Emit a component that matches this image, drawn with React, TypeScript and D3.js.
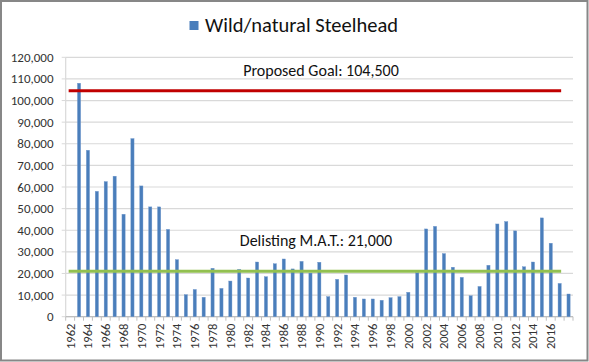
import React from "react";
import * as d3 from "d3";

const years: number[] = d3.range(1962, 2019);
const values: (number | null)[] = [
  null, 108000, 77000, 58000, 62500, 65000, 47400, 82400, 60500, 50800,
  50800, 40400, 26400, 10200, 12600, 9000, 22400, 13100, 16500, 21900,
  17900, 25300, 18500, 24500, 26700, 22100, 25600, 20200, 25200, 9300,
  17300, 19300, 9000, 8200, 8200, 7600, 8800, 9300, 11300, 20400,
  40600, 41800, 29200, 22900, 18200, 9700, 14000, 23800, 42900, 44000,
  39700, 23100, 25300, 45700, 34000, 15400, 10500,
];
const xTickLabels: number[] = d3.range(1962, 2017, 2);
const yTicks: number[] = d3.range(0, 120001, 10000);
const goalValue = 104500;
const goalLabel = "Proposed Goal: 104,500";
const matValue = 21000;
const matLabel = "Delisting M.A.T.: 21,000";
const lineEndYear = 2017;
const seriesName = "Wild/natural Steelhead";

const W = 589;
const H = 362;
const plotLeft = 65.7;
const plotRight = 573;
const plotTop = 57.3;
const plotBottom = 316.7;
const font = "Carlito, Calibri, 'Liberation Sans', Arial, sans-serif";

export default function App() {
  const x = d3.scaleBand<number>().domain(years).range([plotLeft, plotRight]).padding(0);
  const y = d3.scaleLinear().domain([0, 120000]).range([plotBottom, plotTop]);
  const step = x.step();
  const bw = 3.2;
  const cx = (yr: number) => (x(yr) as number) + step / 2;
  const fmt = d3.format(",");
  const lineX1 = cx(years[0]);
  const lineX2 = cx(lineEndYear);

  return (
    <svg
      width={W}
      height={H}
      style={{ position: "absolute", left: 0, top: 0, background: "#fff" }}
      fontFamily={font}
    >
      <rect x={0} y={0} width={W} height={H} fill="#fff" />
      <rect x={1} y={1} width={W - 2.5} height={H - 2.5} fill="none" stroke="#878787" strokeWidth={2} />
      {/* legend */}
      <rect x={189.5} y={21} width={9} height={9} fill="#4a7ebb" />
      <text x={205} y={32} fontSize={20.5} fill="#111">{seriesName}</text>
      {/* gridlines */}
      {yTicks.map((t) => (
        <line key={t} x1={plotLeft} x2={plotRight} y1={y(t)} y2={y(t)} stroke="#d9d9d9" strokeWidth={1.2} />
      ))}
      {/* y axis */}
      <line x1={plotLeft} x2={plotLeft} y1={plotTop} y2={plotBottom} stroke="#d9d9d9" strokeWidth={1.2} />
      {yTicks.map((t) => (
        <g key={"yt" + t}>
          <line x1={plotLeft - 4} x2={plotLeft} y1={y(t)} y2={y(t)} stroke="#d9d9d9" />
          <text x={53.5} y={y(t)} dy="0.35em" textAnchor="end" fontSize={13} fill="#333">
            {fmt(t)}
          </text>
        </g>
      ))}
      {/* x axis */}
      <line x1={plotLeft} x2={plotRight} y1={plotBottom} y2={plotBottom} stroke="#bfbfbf" strokeWidth={1.2} />
      {years.map((yr) => (
        <line key={"xt" + yr} x1={x(yr) as number} x2={x(yr) as number} y1={plotBottom} y2={plotBottom + 4} stroke="#bfbfbf" />
      ))}
      <line x1={plotRight} x2={plotRight} y1={plotBottom} y2={plotBottom + 4} stroke="#bfbfbf" />
      {xTickLabels.map((yr) => (
        <text
          key={"xl" + yr}
          transform={`translate(${cx(yr)},${plotBottom + 7}) rotate(-90)`}
          textAnchor="end"
          dy="0.35em"
          fontSize={12.5}
          fill="#333"
        >
          {yr}
        </text>
      ))}
      {/* bars */}
      {years.map((yr, i) =>
        values[i] == null ? null : (
          <rect
            key={"b" + yr}
            x={cx(yr) - bw / 2}
            y={y(values[i] as number)}
            width={bw}
            height={plotBottom - y(values[i] as number)}
            fill="#4a7ebb"
            stroke="#6f97cc"
            strokeWidth={0.4}
          />
        )
      )}
      {/* reference lines */}
      <line x1={lineX1} x2={lineX2} y1={y(goalValue)} y2={y(goalValue)} stroke="#c00000" strokeWidth={3} strokeLinecap="square" />
      <line x1={lineX1} x2={lineX2} y1={y(matValue)} y2={y(matValue)} stroke="#92c050" strokeWidth={3} strokeLinecap="square" />
      <text x={321} y={75.5} textAnchor="middle" fontSize={16} fill="#111">{goalLabel}</text>
      <text x={316} y={245.5} textAnchor="middle" fontSize={16} fill="#111">{matLabel}</text>
    </svg>
  );
}
